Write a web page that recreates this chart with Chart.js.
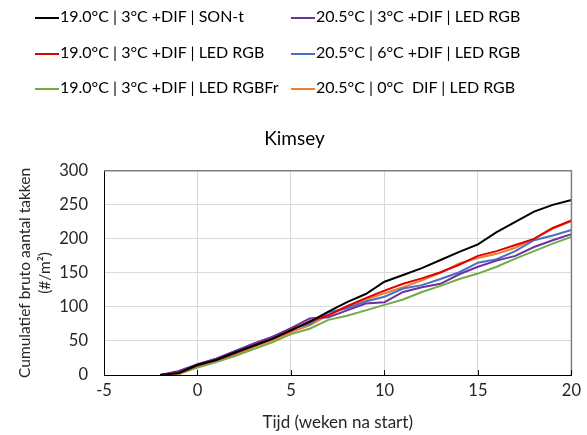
<!DOCTYPE html>
<html>
<head>
<meta charset="utf-8">
<script src="https://cdn.jsdelivr.net/npm/chart.js@4"></script>
<style>
    html, body { margin: 0; padding: 0; background: #fff; }
    #wrap { position: relative; width: 587px; height: 435px; }
    #legend { position: absolute; left: 0; top: 0; width: 587px; height: 105px; font-family: Lato, sans-serif; font-size: 16px; color: #000; }
    .item { position: absolute; height: 20px; line-height: 20px; white-space: pre; }
    .item span.swatch { display: inline-block; width: 24px; height: 2px; vertical-align: middle; margin-right: 1px; }
</style>
</head>
<body>
<div id="wrap">
    <canvas id="chart" width="587" height="435"></canvas>
    <div id="legend"></div>
</div>
<script>
const weeks = [-2, -1, 0, 1, 2, 3, 4, 5, 6, 7, 8, 9, 10, 11, 12, 13, 14, 15, 16, 17, 18, 19, 20];

const sonT19 = [0, 3, 15, 22, 33, 43, 53, 66, 78, 93, 107, 119, 137, 147, 157, 169, 181, 192, 210, 225, 240, 250, 257];
const ledRgb19 = [0, 3, 14, 22, 32, 43, 53, 65, 79, 88, 101, 113, 124, 134, 142, 151, 162, 175, 182, 191, 200, 216, 227];
const ledRgbFr19 = [0, 2, 11, 19, 28, 38, 48, 60, 68, 81, 87, 95, 103, 111, 122, 131, 141, 149, 159, 171, 182, 193, 203];
const ledRgb205dif3 = [0, 6, 16, 24, 35, 46, 56, 69, 83, 85, 95, 105, 107, 122, 129, 134, 148, 159, 168, 175, 188, 198, 207];
const ledRgb205dif6 = [0, 4, 15, 24, 35, 46, 56, 68, 75, 92, 98, 108, 115, 127, 132, 141, 151, 165, 170, 182, 198, 205, 213];
const ledRgb205dif0 = [0, 1, 12, 20, 30, 41, 51, 63, 73, 88, 100, 111, 120, 129, 139, 150, 164, 172, 178, 187, 200, 215, 226];

const xTicks = [-5, 0, 5, 10, 15, 20];
const yTicks = [0, 50, 100, 150, 200, 250, 300];

const series = [
    { label: '19.0°C | 3°C +DIF | SON-t', values: sonT19, color: '#000000' },
    { label: '19.0°C | 3°C +DIF | LED RGB', values: ledRgb19, color: '#e00000' },
    { label: '19.0°C | 3°C +DIF | LED RGBFr', values: ledRgbFr19, color: '#70ad47' },
    { label: '20.5°C | 3°C +DIF | LED RGB', values: ledRgb205dif3, color: '#7030a0' },
    { label: '20.5°C | 6°C +DIF | LED RGB', values: ledRgb205dif6, color: '#4472c4' },
    { label: '20.5°C | 0°C  DIF | LED RGB', values: ledRgb205dif0, color: '#ed7d31' },
];

const font = 'Lato, sans-serif';
const textColor = '#262626';

// frame and small inside tick marks like the excel plot area
const framePlugin = {
    id: 'frame',
    afterDatasetsDraw(chart) {
        const { ctx, chartArea } = chart;
        const xs = chart.scales.x;
        ctx.save();
        ctx.strokeStyle = '#7f7f7f';
        ctx.lineWidth = 1.5;
        ctx.beginPath();
        ctx.moveTo(chartArea.left, chartArea.top);
        ctx.lineTo(chartArea.right, chartArea.top);
        ctx.lineTo(chartArea.right, chartArea.bottom);
        ctx.stroke();
        ctx.strokeStyle = '#000';
        ctx.lineWidth = 1;
        ctx.beginPath();
        xTicks.forEach((t) => {
            const px = Math.round(xs.getPixelForValue(t)) + 0.5;
            ctx.moveTo(px, chartArea.bottom);
            ctx.lineTo(px, chartArea.bottom - 5);
        });
        ctx.stroke();
        ctx.restore();
    },
};

const ctx = document.getElementById('chart').getContext('2d');
const chart = new Chart(ctx, {
    type: 'line',
    data: {
        datasets: series.map((s) => ({
            label: s.label,
            data: weeks.map((w, i) => ({ x: w, y: s.values[i] })),
            borderColor: s.color,
            backgroundColor: s.color,
            borderWidth: 2,
            pointRadius: 0,
            tension: 0,
        })),
    },
    options: {
        responsive: false,
        animation: false,
        layout: {
            padding: { top: 110, right: 13, bottom: 0, left: 15 },
        },
        scales: {
            x: {
                type: 'linear',
                min: -5,
                max: 20,
                afterBuildTicks: (scale) => { scale.ticks = xTicks.map((v) => ({ value: v })); },
                afterFit: (scale) => { scale.height = 60; },
                grid: { color: '#d9d9d9', lineWidth: 1, drawTicks: false },
                border: { color: '#000', width: 1 },
                ticks: { color: textColor, font: { family: font, size: 16.5 }, padding: 6 },
                title: {
                    display: true,
                    text: 'Tijd (weken na start)',
                    color: textColor,
                    font: { family: font, size: 17 },
                    padding: { top: 0, bottom: 2 },
                },
            },
            y: {
                min: 0,
                max: 300,
                afterBuildTicks: (scale) => { scale.ticks = yTicks.map((v) => ({ value: v })); },
                afterFit: (scale) => { scale.width = 89; },
                grid: { color: '#d9d9d9', lineWidth: 1, drawTicks: false },
                border: { color: '#000', width: 1 },
                ticks: { color: textColor, font: { family: font, size: 16.5 }, padding: 16 },
                title: {
                    display: true,
                    text: ['Cumulatief bruto aantal takken', '(#/m²)'],
                    color: textColor,
                    font: { family: font, size: 15.5, lineHeight: 1.3 },
                    padding: { top: 0, bottom: 0 },
                },
            },
        },
        plugins: {
            legend: { display: false },
            tooltip: { enabled: false },
            title: {
                display: true,
                text: 'Kimsey',
                color: '#000',
                font: { family: font, size: 19, weight: 'normal' },
                padding: { top: 17, bottom: 21 },
            },
        },
    },
    plugins: [framePlugin],
});

// legend in two columns, three rows
const legendEl = document.getElementById('legend');
const colX = [35, 291];
const rowY = [6, 42, 77];
series.forEach((s, i) => {
    const col = Math.floor(i / 3);
    const row = i % 3;
    const item = document.createElement('div');
    item.className = 'item';
    item.style.left = colX[col] + 'px';
    item.style.top = rowY[row] + 'px';
    const sw = document.createElement('span');
    sw.className = 'swatch';
    sw.style.background = s.color;
    item.appendChild(sw);
    item.appendChild(document.createTextNode(s.label));
    legendEl.appendChild(item);
});
</script>
</body>
</html>
